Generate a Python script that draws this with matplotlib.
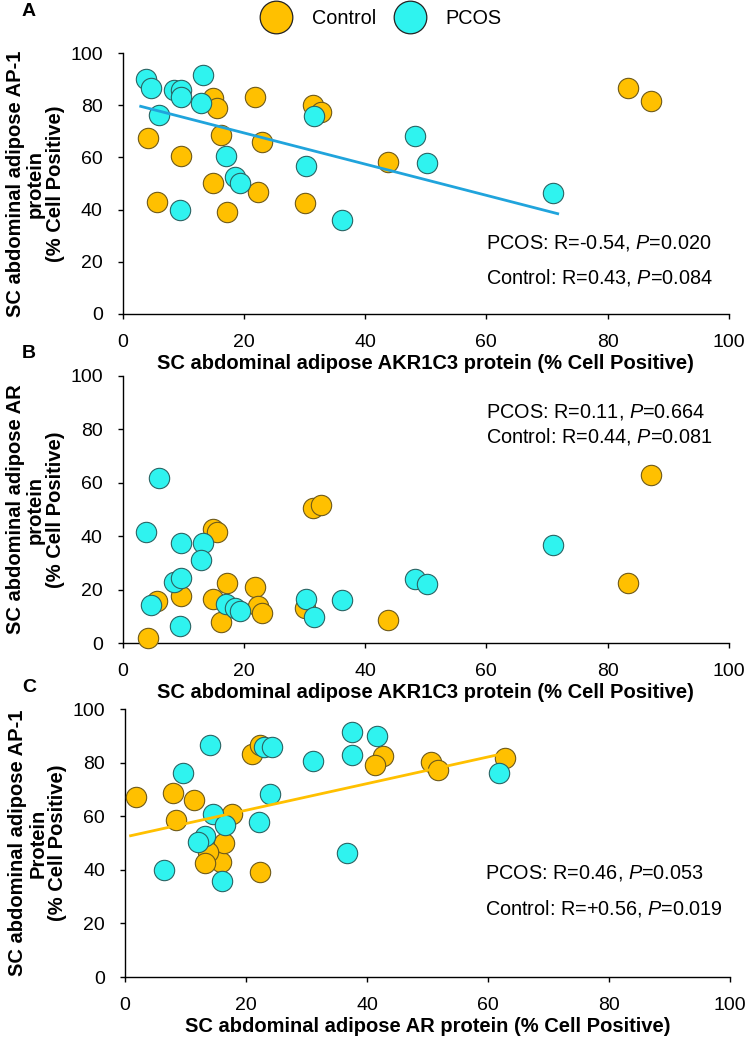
import numpy as np
import matplotlib
matplotlib.use('Agg')
import matplotlib.pyplot as plt
from matplotlib.lines import Line2D

plt.rcParams['font.family'] = ['Liberation Sans', 'DejaVu Sans']
plt.rcParams['mathtext.fontset'] = 'custom'
plt.rcParams['mathtext.rm'] = 'Liberation Sans'
plt.rcParams['mathtext.it'] = 'Liberation Sans:italic'

# ---- data (per subject) ----
ctrl_akr1c3 = [4.2, 5.6, 9.6, 14.85, 15.5, 14.85, 16.2, 17.2, 21.9, 22.4, 23.0, 30.0, 31.35, 32.8, 43.8, 83.4, 87.1]
ctrl_ap1    = [67.3, 43.0, 60.7, 82.6, 79.0, 50.1, 68.6, 39.2, 83.3, 46.6, 66.0, 42.4, 80.1, 77.3, 58.4, 86.7, 81.6]
ctrl_ar     = [1.8, 15.8, 17.7, 42.6, 41.4, 16.4, 8.0, 22.3, 21.0, 13.8, 11.4, 13.2, 50.6, 51.8, 8.5, 22.3, 62.8]

pcos_akr1c3 = [3.85, 4.7, 8.5, 9.6, 9.6, 13.2, 12.9, 6.0, 17.0, 18.5, 19.4, 9.5, 30.2, 36.2, 31.5, 48.2, 50.2, 71.0]
pcos_ap1    = [90.0, 86.5, 85.8, 85.8, 83.0, 91.6, 80.7, 76.2, 60.7, 52.6, 50.3, 39.8, 56.8, 36.0, 76.0, 68.3, 57.7, 46.2]
pcos_ar     = [41.6, 14.1, 23.0, 24.3, 37.5, 37.5, 31.0, 61.8, 14.6, 13.2, 12.0, 6.4, 16.5, 16.1, 9.6, 24.0, 22.1, 36.7]

# trendlines (end points)
trend_a_x = [2.75, 72.0]   # PCOS, AKR1C3 vs AP-1
trend_a_y = [79.7, 38.3]
trend_c_x = [0.7, 62.8]    # Control, AR vs AP-1
trend_c_y = [52.6, 83.5]

group_labels = ["Control", "PCOS"]
panel_letters = ["A", "B", "C"]
x_labels = ["SC abdominal adipose AKR1C3 protein (% Cell Positive)",
            "SC abdominal adipose AKR1C3 protein (% Cell Positive)",
            "SC abdominal adipose AR protein (% Cell Positive)"]
y_labels = ["SC abdominal adipose AP-1\nprotein\n(% Cell Positive)",
            "SC abdominal adipose AR\nprotein\n(% Cell Positive)",
            "SC abdominal adipose AP-1\nProtein\n(% Cell Positive)"]
stats_pcos = ["PCOS: R=-0.54, $\\mathit{P}$=0.020",
              "PCOS: R=0.11, $\\mathit{P}$=0.664",
              "PCOS: R=0.46, $\\mathit{P}$=0.053"]
stats_ctrl = ["Control: R=0.43, $\\mathit{P}$=0.084",
              "Control: R=0.44, $\\mathit{P}$=0.081",
              "Control: R=+0.56, $\\mathit{P}$=0.019"]
ticks = [0, 20, 40, 60, 80, 100]

# ---- style ----
CTRL_FACE, CTRL_EDGE = '#FFC000', '#6E5A1A'
PCOS_FACE, PCOS_EDGE = '#2FF3EF', '#2A6464'
PCOS_LINE = '#20A4DC'
CTRL_LINE = '#FFC000'

panels = [
    dict(cx=ctrl_akr1c3, cy=ctrl_ap1, px=pcos_akr1c3, py=pcos_ap1,
         tx=trend_a_x, ty=trend_a_y, tc=PCOS_LINE),
    dict(cx=ctrl_akr1c3, cy=ctrl_ar, px=pcos_akr1c3, py=pcos_ar,
         tx=None, ty=None, tc=None),
    dict(cx=ctrl_ar, cy=ctrl_ap1, px=pcos_ar, py=pcos_ap1,
         tx=trend_c_x, ty=trend_c_y, tc=CTRL_LINE),
]

W, H = 750, 1041
fig = plt.figure(figsize=(W / 100, H / 100), dpi=100)

# axes boxes in pixels: left, top(of y=100), right, bottom(y=0)
boxes = [(122.7, 53, 728.7, 314), (122.7, 376, 728.7, 643), (125, 709, 730, 977)]
letter_pos = [(22, 11), (22, 354), (22, 687)]
stat_pos = [(60, 27.2, 13.8), (60, 86.5, 77.2), (59.5, 38.7, 25.6)]

for i, p in enumerate(panels):
    l, t, r, b = boxes[i]
    ax = fig.add_axes([l / W, 1 - b / H, (r - l) / W, (b - t) / H])
    ax.scatter(p['cx'], p['cy'], s=215, facecolor=CTRL_FACE, edgecolor=CTRL_EDGE,
               linewidth=0.8, zorder=3, clip_on=False)
    ax.scatter(p['px'], p['py'], s=215, facecolor=PCOS_FACE, edgecolor=PCOS_EDGE,
               linewidth=0.8, zorder=4, clip_on=False)
    if p['tx'] is not None:
        ax.plot(p['tx'], p['ty'], color=p['tc'], linewidth=2.0, zorder=5,
                solid_capstyle='butt')
    ax.set_xlim(0, 100)
    ax.set_ylim(0, 100)
    ax.set_xticks(ticks)
    ax.set_yticks(ticks)
    for s in ['top', 'right']:
        ax.spines[s].set_visible(False)
    for s in ['left', 'bottom']:
        ax.spines[s].set_linewidth(1.0)
        ax.spines[s].set_color('black')
    ax.tick_params(axis='both', direction='out', length=3.8, width=1.0,
                   labelsize=14, pad=10.5, colors='black')
    ax.set_xlabel(x_labels[i], fontsize=14.5, fontweight='bold', labelpad=2.5)
    ax.set_ylabel(y_labels[i], fontsize=14.5, fontweight='bold', labelpad=4,
                  linespacing=1.05)
    sx, sy1, sy2 = stat_pos[i]
    ax.text(sx, sy1, stats_pcos[i], fontsize=14.3, ha='left', va='center')
    ax.text(sx, sy2, stats_ctrl[i], fontsize=14.3, ha='left', va='center')
    lx, ly = letter_pos[i]
    fig.text(lx / W, 1 - ly / H, panel_letters[i], fontsize=14, fontweight='bold',
             ha='left', va='center')

handles = [
    Line2D([], [], linestyle='none', marker='o', markersize=23.5,
           markerfacecolor=CTRL_FACE, markeredgecolor='#222222', markeredgewidth=0.9),
    Line2D([], [], linestyle='none', marker='o', markersize=23.5,
           markerfacecolor=PCOS_FACE, markeredgecolor='#222222', markeredgewidth=0.9),
]
fig.legend(handles, group_labels, loc='center', bbox_to_anchor=(379 / W, 1 - 18 / H),
           ncol=2, frameon=False, fontsize=14.3, handlelength=2.0, handletextpad=0.8,
           columnspacing=0.7, borderpad=0)

fig.savefig('out.png', dpi=100)
